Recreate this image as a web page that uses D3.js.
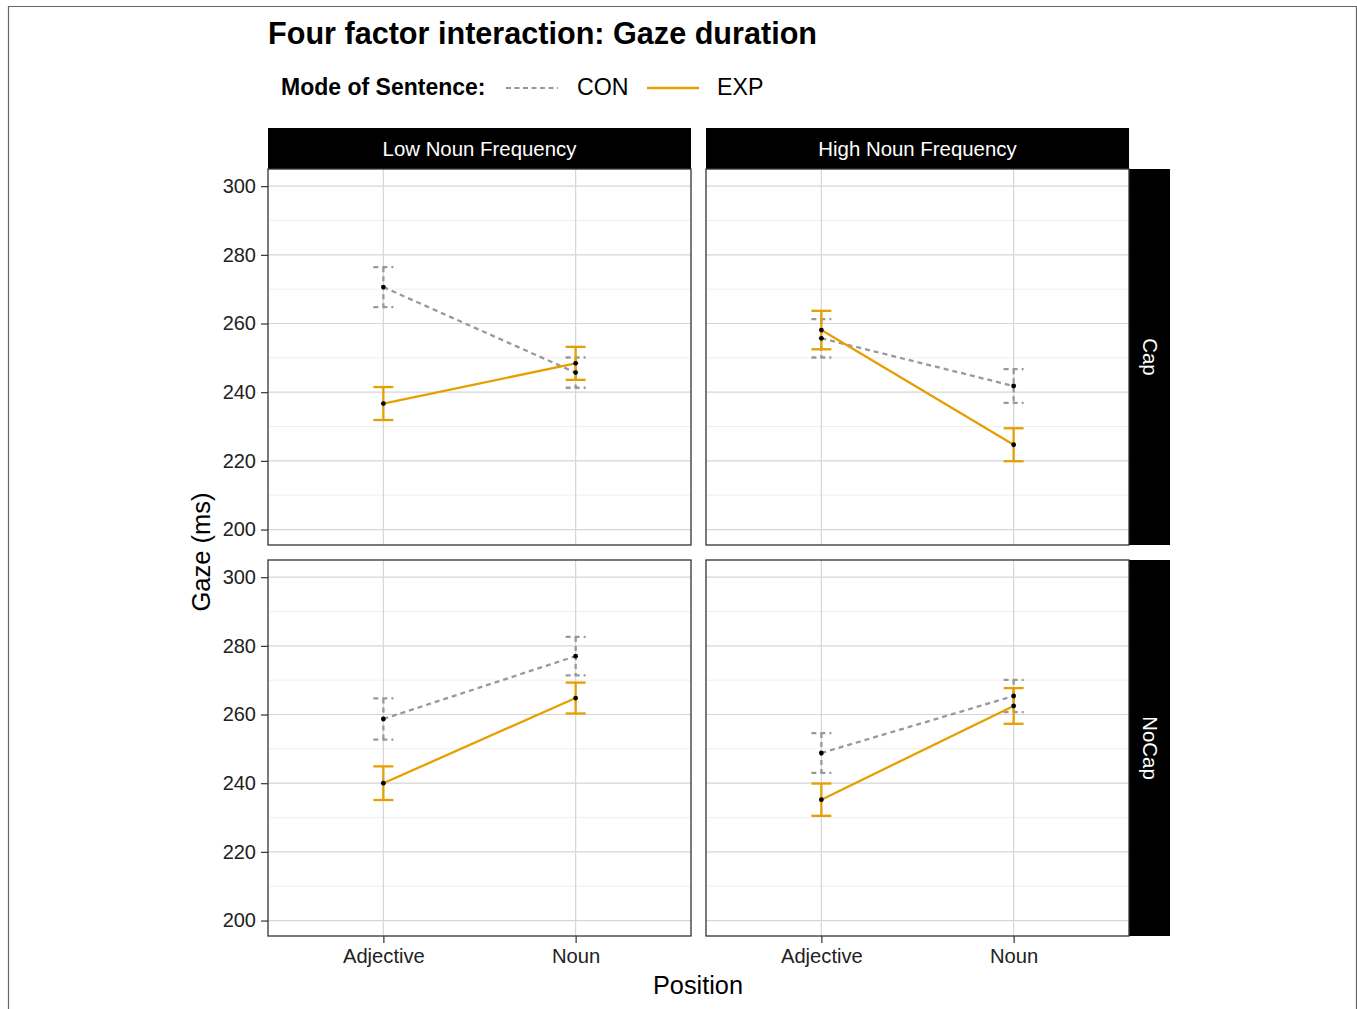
<!DOCTYPE html>
<html><head><meta charset="utf-8">
<script src="https://cdn.jsdelivr.net/npm/d3@7"></script>
<style>body{margin:0;background:#fff;font-family:"Liberation Sans",Arial,sans-serif;}</style>
</head><body>
<script>
const positions = ["Adjective","Noun"];
const modes = ["CON","EXP"];
const frequencies = ["Low Noun Frequency","High Noun Frequency"];
const caps = ["Cap","NoCap"];
const yTicks = [200,220,240,260,280,300];
const yMinor = [210,230,250,270,290];
const conLowCap = [270.6, 245.7], conLowCapSE = [5.8, 4.4];
const expLowCap = [236.7, 248.4], expLowCapSE = [4.8, 4.8];
const conHighCap = [255.7, 241.8], conHighCapSE = [5.6, 4.9];
const expHighCap = [258.1, 224.7], expHighCapSE = [5.6, 4.8];
const conLowNoCap = [258.7, 277.0], conLowNoCapSE = [6.0, 5.6];
const expLowNoCap = [240.0, 264.8], expLowNoCapSE = [4.9, 4.5];
const conHighNoCap = [248.8, 265.4], conHighNoCapSE = [5.8, 4.7];
const expHighNoCap = [235.2, 262.5], expHighNoCapSE = [4.7, 5.2];

const panels = [
 {f:0,c:0,series:[{m:"CON",v:conLowCap,se:conLowCapSE},{m:"EXP",v:expLowCap,se:expLowCapSE}]},
 {f:1,c:0,series:[{m:"CON",v:conHighCap,se:conHighCapSE},{m:"EXP",v:expHighCap,se:expHighCapSE}]},
 {f:0,c:1,series:[{m:"CON",v:conLowNoCap,se:conLowNoCapSE},{m:"EXP",v:expLowNoCap,se:expLowNoCapSE}]},
 {f:1,c:1,series:[{m:"CON",v:conHighNoCap,se:conHighNoCapSE},{m:"EXP",v:expHighNoCap,se:expHighNoCapSE}]}
];

const W=1357,H=1009;
const svg=d3.select("body").append("svg").attr("width",W).attr("height",H);
svg.append("rect").attr("width",W).attr("height",H).attr("fill","#fff");
svg.append("path").attr("d","M8.5,1009 V6.5 H1356.5 V1009").attr("fill","none").attr("stroke","#666").attr("stroke-width",1.2);

const colL=[268,706], pw=423;
const rowT=[169,560], ph=376;
const stripH=41, stripW=41;
const color={CON:"#999999",EXP:"#E69F00"};
const dash={CON:"5,4",EXP:null};

const xs = d3.scaleLinear().domain([0.4,2.6]).range([0,pw]);
const y = d3.scaleLinear().domain([195.5,305]).range([ph,0]);

svg.append("text").attr("x",268).attr("y",44).attr("font-size",30.6).attr("font-weight","bold").attr("fill","#000").text("Four factor interaction: Gaze duration");
const lg=svg.append("g");
lg.append("text").attr("x",281).attr("y",95).attr("font-size",23).attr("font-weight","bold").text("Mode of Sentence:");
lg.append("line").attr("x1",506).attr("x2",558).attr("y1",88).attr("y2",88).attr("stroke",color.CON).attr("stroke-width",2.2).attr("stroke-dasharray","5,3.5");
lg.append("text").attr("x",577).attr("y",95).attr("font-size",23.2).text(modes[0]);
lg.append("line").attr("x1",647).attr("x2",699).attr("y1",88).attr("y2",88).attr("stroke",color.EXP).attr("stroke-width",2.6);
lg.append("text").attr("x",717).attr("y",95).attr("font-size",23.2).text(modes[1]);

frequencies.forEach((f,i)=>{
  svg.append("rect").attr("x",colL[i]).attr("y",128).attr("width",pw).attr("height",stripH).attr("fill","#000");
  svg.append("text").attr("x",colL[i]+pw/2).attr("y",128+stripH/2+7).attr("text-anchor","middle").attr("font-size",20.4).attr("fill","#fff").text(f);
});
caps.forEach((c,j)=>{
  const x0=colL[1]+pw, y0=rowT[j];
  svg.append("rect").attr("x",x0).attr("y",y0).attr("width",stripW).attr("height",ph).attr("fill","#000");
  svg.append("text").attr("transform",`translate(${x0+stripW/2-7},${y0+ph/2}) rotate(90)`).attr("text-anchor","middle").attr("font-size",20.4).attr("fill","#fff").text(c);
});

panels.forEach(p=>{
  const g=svg.append("g").attr("transform",`translate(${colL[p.f]},${rowT[p.c]})`);
  g.append("rect").attr("width",pw).attr("height",ph).attr("fill","#fff");
  g.selectAll(".mn").data(yMinor).join("line").attr("x1",0).attr("x2",pw).attr("y1",d=>y(d)).attr("y2",d=>y(d)).attr("stroke","#ebebeb").attr("stroke-width",0.8);
  g.selectAll(".mj").data(yTicks).join("line").attr("x1",0).attr("x2",pw).attr("y1",d=>y(d)).attr("y2",d=>y(d)).attr("stroke","#d6d6d6").attr("stroke-width",1.2);
  positions.forEach((pos,i)=>{
    g.append("line").attr("x1",xs(i+1)).attr("x2",xs(i+1)).attr("y1",0).attr("y2",ph).attr("stroke","#d6d6d6").attr("stroke-width",1.2);
  });
  p.series.forEach(s=>{
    const line=d3.line().x((d,i)=>xs(i+1)).y(d=>y(d));
    g.append("path").attr("d",line(s.v)).attr("fill","none").attr("stroke",color[s.m]).attr("stroke-width",2.3).attr("stroke-dasharray",dash[s.m]);
    s.v.forEach((v,i)=>{
      const cx=xs(i+1), lo=y(v-s.se[i]), hi=y(v+s.se[i]);
      const eb=g.append("g").attr("stroke",color[s.m]).attr("stroke-width",2.3).attr("fill","none");
      if(dash[s.m]) eb.attr("stroke-dasharray",dash[s.m]);
      eb.append("line").attr("x1",cx).attr("x2",cx).attr("y1",hi).attr("y2",lo);
      eb.append("line").attr("x1",cx-10).attr("x2",cx+10).attr("y1",hi).attr("y2",hi);
      eb.append("line").attr("x1",cx-10).attr("x2",cx+10).attr("y1",lo).attr("y2",lo);
    });
  });
  p.series.forEach(s=>{
    g.selectAll(null).data(s.v).join("circle").attr("cx",(d,i)=>xs(i+1)).attr("cy",d=>y(d)).attr("r",2.4).attr("fill","#000");
  });
  g.append("rect").attr("width",pw).attr("height",ph).attr("fill","none").attr("stroke","#333").attr("stroke-width",1.3);
  if(p.f===0){
    const ax=g.append("g").call(d3.axisLeft(y).tickValues(yTicks).tickSize(7).tickPadding(5));
    ax.select(".domain").remove();
    ax.selectAll("line").attr("stroke","#333").attr("stroke-width",1.2);
    ax.selectAll("text").attr("font-size",20).attr("fill","#222").attr("font-family","Liberation Sans, Arial, sans-serif");
  }
  if(p.c===1){
    const ax=g.append("g").attr("transform",`translate(0,${ph})`).call(d3.axisBottom(xs).tickValues([1,2]).tickFormat(d=>positions[d-1]).tickSize(7).tickPadding(6));
    ax.select(".domain").remove();
    ax.selectAll("line").attr("stroke","#333").attr("stroke-width",1.2);
    ax.selectAll("text").attr("font-size",20.2).attr("fill","#222").attr("font-family","Liberation Sans, Arial, sans-serif");
  }
});

svg.append("text").attr("transform","translate(210,552) rotate(-90)").attr("text-anchor","middle").attr("font-size",25.5).text("Gaze (ms)");
svg.append("text").attr("x",698).attr("y",994).attr("text-anchor","middle").attr("font-size",25.3).text("Position");
</script>
</body></html>
